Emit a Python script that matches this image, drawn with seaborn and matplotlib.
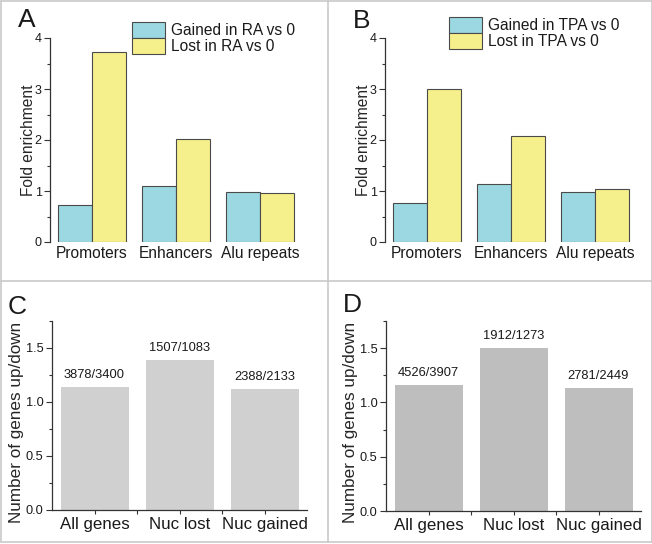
import matplotlib
matplotlib.use("Agg")
import matplotlib.pyplot as plt
from matplotlib.lines import Line2D
from matplotlib.ticker import MultipleLocator, FixedLocator
import seaborn as sns
import pandas as pd

# ---- data ----
regions = ["Promoters", "Enhancers", "Alu repeats"]
ra_gained = [0.73, 1.10, 0.98]
ra_lost = [3.73, 2.02, 0.97]
tpa_gained = [0.76, 1.13, 0.98]
tpa_lost = [3.00, 2.08, 1.03]
ra_series = ["Gained in RA vs 0", "Lost in RA vs 0"]
tpa_series = ["Gained in TPA vs 0", "Lost in TPA vs 0"]

gene_sets = ["All genes", "Nuc lost", "Nuc gained"]
c_up = [3878, 1507, 2388]
c_down = [3400, 1083, 2133]
d_up = [4526, 1912, 2781]
d_down = [3907, 1273, 2449]

sns.set_theme(style="white")
plt.rcParams['font.family'] = ['Liberation Sans', 'DejaVu Sans']
plt.rcParams['text.color'] = '#1a1a1a'

W, H = 652, 544
fig = plt.figure(figsize=(W / 100, H / 100), dpi=100)
fig.patch.set_facecolor("white")

def rect(l, t, r, b):
    return [l / W, 1 - b / H, (r - l) / W, (b - t) / H]

BLUE = "#9bd8e2"
YELLOW = "#f6f08c"
EDGE = "#4a4a4a"
AXC = "#333333"

def style_axes(ax):
    for s in ["top", "right"]:
        ax.spines[s].set_visible(False)
    ax.spines["left"].set_color(AXC)
    ax.spines["left"].set_linewidth(0.9)
    ax.tick_params(axis="y", which="major", direction="out", length=4, width=0.8,
                   color=AXC, labelsize=9, labelcolor="#1a1a1a", pad=2, left=True)
    ax.tick_params(axis="y", which="minor", direction="out", length=2.5, width=0.8,
                   color=AXC, left=True)
    ax.set_facecolor("white")

def letter_at(x, y, letter):
    fig.text(x / W, 1 - y / H, letter, fontsize=19, ha="center", va="center")

def enrichment_panel(rectpix, gained, lost, names, legend_anchor):
    ax = fig.add_axes(rect(*rectpix))
    df = pd.DataFrame({
        "region": regions * 2,
        "value": list(gained) + list(lost),
        "series": [names[0]] * 3 + [names[1]] * 3,
    })
    sns.barplot(data=df, x="region", y="value", hue="series",
                palette=[BLUE, YELLOW], edgecolor=EDGE, linewidth=0.8,
                width=0.8, ax=ax, saturation=1)
    style_axes(ax)
    ax.spines["bottom"].set_visible(False)
    ax.set_xlim(-0.5, 2.5)
    ax.set_ylim(0, 4)
    ax.yaxis.set_major_locator(MultipleLocator(1))
    ax.yaxis.set_minor_locator(MultipleLocator(0.5))
    ax.tick_params(axis="x", which="both", length=0, labelsize=11.2, pad=3,
                   labelcolor="#1a1a1a", bottom=False)
    ax.set_xlabel("")
    ax.set_ylabel("Fold enrichment", fontsize=11.2)
    ax.yaxis.set_label_coords(-0.056, 0.5)
    ax.legend(loc="upper left", bbox_to_anchor=legend_anchor, frameon=False,
              fontsize=11.2, borderaxespad=0, borderpad=0, labelspacing=0.0,
              handlelength=2.15, handleheight=1.2, handletextpad=0.35)
    return ax

def ratio_panel(rectpix, up, down, color):
    ax = fig.add_axes(rect(*rectpix))
    ratios = [u / d for u, d in zip(up, down)]
    df = pd.DataFrame({"set": gene_sets, "ratio": ratios})
    sns.barplot(data=df, x="set", y="ratio", color=color, saturation=1,
                width=0.8, ax=ax, edgecolor="none")
    style_axes(ax)
    ax.spines["bottom"].set_color(AXC)
    ax.spines["bottom"].set_linewidth(0.9)
    ax.set_xlim(-0.5, 2.5)
    ax.set_ylim(0, 1.75)
    ax.yaxis.set_major_locator(MultipleLocator(0.5))
    ax.yaxis.set_minor_locator(MultipleLocator(0.25))
    ax.yaxis.set_major_formatter(matplotlib.ticker.FormatStrFormatter("%.1f"))
    ax.xaxis.set_minor_locator(FixedLocator([0.5, 1.5]))
    ax.tick_params(axis="x", which="major", direction="out", length=3, width=0.8,
                   color=AXC, labelsize=12.2, labelcolor="#1a1a1a", pad=2, bottom=True)
    ax.tick_params(axis="x", which="minor", direction="out", length=3, width=0.8,
                   color=AXC, bottom=True)
    ax.tick_params(axis="y", which="major", labelsize=9.2)
    ax.set_xlabel("")
    ax.set_ylabel("Number of genes up/down", fontsize=12.3)
    ax.yaxis.set_label_coords(-0.108, 0.465)
    for i, (u, d, r) in enumerate(zip(up, down, ratios)):
        ax.text(i, r + 0.055, f"{u}/{d}", ha="center", va="bottom", fontsize=9.3)
    return ax

enrichment_panel((50, 38, 302, 242), ra_gained, ra_lost, ra_series, (0.325, 1.08))
enrichment_panel((385, 38, 637, 242), tpa_gained, tpa_lost, tpa_series, (0.254, 1.103))
ratio_panel((52, 321, 307, 510), c_up, c_down, "#d0d0d0")
ratio_panel((386, 321, 641, 511), d_up, d_down, "#bebebe")

letter_at(27, 20, "A")
letter_at(362, 21, "B")
letter_at(17, 307, "C")
letter_at(352, 305, "D")

# panel separators / frame
GRID = "#c9c9c9"
def fline(x0, y0, x1, y1):
    fig.add_artist(Line2D([x0 / W, x1 / W], [1 - y0 / H, 1 - y1 / H],
                          color=GRID, linewidth=1.2))
fline(0.5, 1, 651.5, 1)
fline(0.5, 542, 651.5, 542)
fline(0.5, 1, 0.5, 542)
fline(651.5, 1, 651.5, 542)
fline(328, 1, 328, 542)
fline(0.5, 281, 651.5, 281)

fig.savefig("out.png", dpi=100, facecolor="white")
